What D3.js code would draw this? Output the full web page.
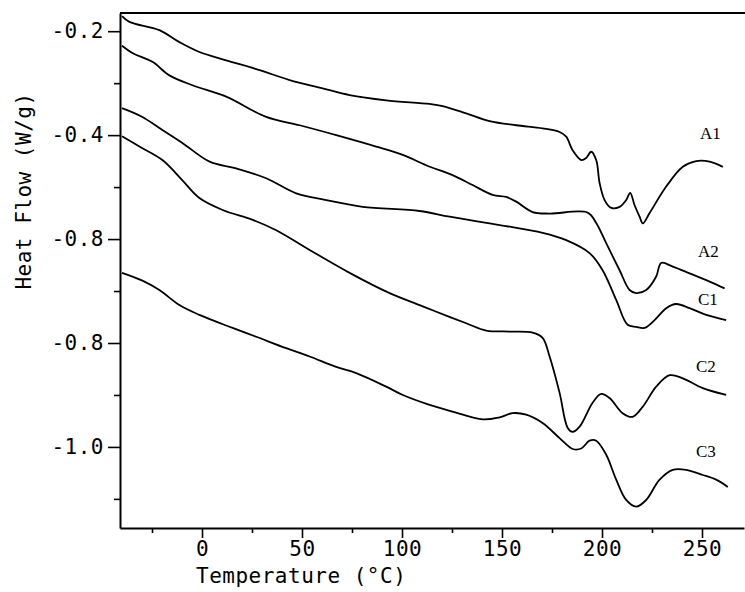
<!DOCTYPE html>
<html>
<head>
<meta charset="utf-8">
<script src="https://cdn.jsdelivr.net/npm/d3@7"></script>
<style>
  body { margin: 0; background: #fff; }
  .tick-label { font-family: "DejaVu Sans Mono", monospace; font-size: 21px; letter-spacing: 0.5px; }
  .axis-title { font-family: "DejaVu Sans Mono", monospace; font-size: 21px; letter-spacing: 0.5px; }
  .curve-label { font-family: "Liberation Serif", serif; font-size: 17px; }
</style>
</head>
<body>
<svg id="canvas"></svg>
<script>
// curve names
const curveNames = ["A1", "A2", "C1", "C2", "C3"];

// temperature (°C) and heat flow (W/g)
const a1Temp = [-40, -36.3, -21.3, -11.3, -1.3, 12.1, 28.8, 43.8, 60.3, 73.8, 92.1, 113.8, 120.3, 132.1, 143.8, 157.1, 170.3, 178.8, 182.1, 185.3, 189.6, 192.1, 194.6, 197.1, 198.8, 201.3, 204.6, 208.8, 212.1, 214.1, 216.3, 218.8, 220.4, 223.8, 232.1, 240.4, 247.1, 253.8, 260.4];
const a1Flow = [-0.171, -0.182, -0.198, -0.221, -0.240, -0.256, -0.275, -0.294, -0.310, -0.323, -0.333, -0.340, -0.344, -0.358, -0.373, -0.381, -0.387, -0.394, -0.403, -0.429, -0.448, -0.444, -0.432, -0.448, -0.492, -0.525, -0.540, -0.538, -0.525, -0.511, -0.535, -0.557, -0.570, -0.550, -0.499, -0.461, -0.450, -0.451, -0.461];

const a2Temp = [-40, -34.8, -24.8, -16.3, -4.8, 12.1, 32.1, 48.8, 67.1, 87.1, 100.4, 112.1, 125.3, 135.3, 145.3, 152.1, 157.1, 165.3, 173.8, 192.8, 197.1, 202.1, 208.8, 213.8, 217.1, 222.1, 227.1, 229.6, 235.4, 243.8, 253.8, 261.3];
const a2Flow = [-0.228, -0.242, -0.259, -0.285, -0.304, -0.326, -0.365, -0.381, -0.400, -0.422, -0.438, -0.458, -0.477, -0.496, -0.515, -0.519, -0.528, -0.548, -0.551, -0.549, -0.569, -0.608, -0.660, -0.698, -0.704, -0.698, -0.672, -0.646, -0.653, -0.666, -0.682, -0.695];

const c1Temp = [-40, -29.8, -19.8, -9.8, 3.8, 17.1, 32.1, 47.1, 62.1, 80.3, 108.8, 123.8, 148.8, 170.3, 182.1, 193.8, 200.3, 207.1, 212.8, 217.1, 221.3, 226.3, 232.1, 237.1, 243.8, 252.1, 262.1];
const c1Flow = [-0.348, -0.365, -0.390, -0.415, -0.451, -0.464, -0.483, -0.512, -0.525, -0.538, -0.546, -0.557, -0.573, -0.588, -0.602, -0.627, -0.660, -0.717, -0.765, -0.769, -0.771, -0.756, -0.733, -0.725, -0.733, -0.746, -0.756];

const c2Temp = [-40, -31.3, -19.8, -9.8, -1.3, 10.3, 25.3, 37.1, 53.8, 73.8, 93.8, 108.8, 115.3, 132.1, 142.1, 153.8, 165.3, 170.3, 173.8, 178.8, 182.8, 185.3, 188.8, 195.3, 199.6, 203.8, 210.3, 215.3, 220.3, 227.1, 233.8, 240.4, 250.4, 262.1];
const c2Flow = [-0.402, -0.422, -0.448, -0.487, -0.521, -0.544, -0.563, -0.583, -0.621, -0.665, -0.704, -0.727, -0.737, -0.762, -0.776, -0.778, -0.780, -0.790, -0.826, -0.896, -0.963, -0.971, -0.961, -0.915, -0.898, -0.906, -0.935, -0.942, -0.923, -0.884, -0.862, -0.868, -0.887, -0.900];

const c3Temp = [-40, -29.8, -21.3, -11.3, -1.3, 15.3, 27.1, 42.1, 53.8, 67.1, 77.1, 92.1, 100.4, 113.8, 125.3, 140.4, 148.8, 155.3, 162.1, 170.3, 178.8, 185.4, 189.6, 193.8, 197.1, 202.1, 207.1, 212.1, 217.1, 222.1, 228.8, 235.4, 242.1, 250.4, 257.1, 262.9];
const c3Flow = [-0.665, -0.680, -0.698, -0.727, -0.746, -0.771, -0.788, -0.810, -0.826, -0.846, -0.858, -0.884, -0.900, -0.919, -0.932, -0.947, -0.943, -0.935, -0.938, -0.954, -0.983, -1.004, -1.003, -0.988, -0.988, -1.015, -1.063, -1.102, -1.115, -1.102, -1.063, -1.044, -1.044, -1.054, -1.063, -1.077];

// where the curve names sit (temperature, heat flow)
const labelTemp = [249, 248, 248, 247, 247];
const labelFlow = [-0.408, -0.635, -0.727, -0.856, -1.019];

// axis ticks (the scan prints the third y label as -0.8)
const xTicks = [0, 50, 100, 150, 200, 250];
const xMinorTicks = [-25, 25, 75, 125, 175, 225];
const yTicks = [-0.2, -0.4, -0.6, -0.8, -1.0];
const yTickLabels = ["-0.2", "-0.4", "-0.8", "-0.8", "-1.0"];
const yMinorTicks = [-0.3, -0.5, -0.7, -0.9, -1.1];

function drawChart() {
    const width = 745;
    const height = 592;
    const margin = { top: 13, right: 1, bottom: 64, left: 120 };
    const innerWidth = width - margin.left - margin.right;
    const innerHeight = height - margin.top - margin.bottom;

    const svg = d3.select("#canvas")
        .attr("width", width)
        .attr("height", height);

    const g = svg.append("g")
        .attr("transform", `translate(${margin.left},${margin.top})`);

    const x = d3.scaleLinear()
        .domain([-41, 271])
        .range([0, innerWidth]);

    const y = d3.scaleLinear()
        .domain([-1.156, -0.165])
        .range([innerHeight, 0]);

    const series = [
        { name: curveNames[0], temp: a1Temp, flow: a1Flow },
        { name: curveNames[1], temp: a2Temp, flow: a2Flow },
        { name: curveNames[2], temp: c1Temp, flow: c1Flow },
        { name: curveNames[3], temp: c2Temp, flow: c2Flow },
        { name: curveNames[4], temp: c3Temp, flow: c3Flow }
    ];

    const line = d3.line()
        .x(d => x(d[0]))
        .y(d => y(d[1]))
        .curve(d3.curveCatmullRom.alpha(0.5));

    g.selectAll(".curve")
        .data(series)
        .enter()
        .append("path")
        .attr("class", "curve")
        .attr("d", s => line(d3.zip(s.temp, s.flow)))
        .attr("fill", "none")
        .attr("stroke", "#000")
        .attr("stroke-width", 1.8)
        .attr("stroke-linejoin", "round");

    // top frame line
    g.append("line")
        .attr("x1", 0)
        .attr("x2", innerWidth + margin.right)
        .attr("y1", 0)
        .attr("y2", 0)
        .attr("stroke", "#000")
        .attr("stroke-width", 2);

    // x axis
    const xAxis = g.append("g")
        .attr("transform", `translate(0,${innerHeight})`)
        .call(d3.axisBottom(x).tickValues(xTicks).tickSize(10).tickPadding(3).tickSizeOuter(0));
    g.append("g")
        .attr("transform", `translate(0,${innerHeight})`)
        .call(d3.axisBottom(x).tickValues(xMinorTicks).tickSize(5).tickFormat("").tickSizeOuter(0))
        .select(".domain").remove();

    // y axis
    const yAxis = g.append("g")
        .call(d3.axisLeft(y).tickValues(yTicks).tickSize(12).tickPadding(4).tickSizeOuter(0)
            .tickFormat((d, i) => yTickLabels[i]));
    g.append("g")
        .call(d3.axisLeft(y).tickValues(yMinorTicks).tickSize(6).tickFormat("").tickSizeOuter(0))
        .select(".domain").remove();

    svg.selectAll(".domain").attr("stroke-width", 2).attr("stroke", "#000");
    svg.selectAll(".tick line").attr("stroke-width", 1.6).attr("stroke", "#000");
    svg.selectAll(".tick text")
        .attr("class", "tick-label")
        .attr("fill", "#000");
    xAxis.selectAll(".tick text").attr("dy", "0.72em");

    // axis titles
    svg.append("text")
        .attr("class", "axis-title")
        .attr("x", 196)
        .attr("y", 583)
        .text("Temperature (°C)");

    svg.append("text")
        .attr("class", "axis-title")
        .attr("text-anchor", "middle")
        .attr("transform", "translate(31,191) rotate(-90)")
        .text("Heat Flow (W/g)");

    // curve names
    g.selectAll(".curve-label")
        .data(curveNames)
        .enter()
        .append("text")
        .attr("class", "curve-label")
        .attr("x", (d, i) => x(labelTemp[i]))
        .attr("y", (d, i) => y(labelFlow[i]))
        .text(d => d);
}

drawChart();
</script>
</body>
</html>
